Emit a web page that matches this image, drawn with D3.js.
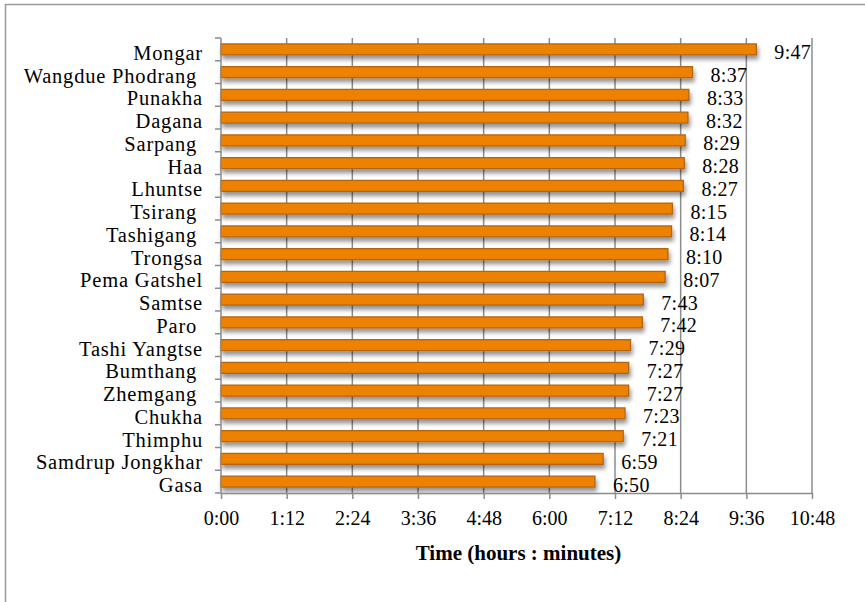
<!DOCTYPE html>
<html>
<head>
<meta charset="utf-8">
<script src="https://cdn.jsdelivr.net/npm/d3@7"></script>
<style>
  html, body { margin: 0; padding: 0; background: #fff; }
  svg { display: block; }
  text { font-family: "Liberation Serif", "Times New Roman", serif; fill: #000; white-space: pre; }
</style>
</head>
<body>
<svg id="chart" width="865" height="602"></svg>
<script>
// ---- data ----
const districts = ["Mongar", "Wangdue Phodrang ", "Punakha", "Dagana", "Sarpang ", "Haa", "Lhuntse",
  "Tsirang ", "Tashigang ", "Trongsa", "Pema Gatshel", "Samtse", "Paro ", "Tashi Yangtse",
  "Bumthang ", "Zhemgang ", "Chukha", "Thimphu", "Samdrup Jongkhar", "Gasa"];
const times = ["9:47", "8:37", "8:33", "8:32", "8:29", "8:28", "8:27", "8:15", "8:14", "8:10",
  "8:07", "7:43", "7:42", "7:29", "7:27", "7:27", "7:23", "7:21", "6:59", "6:50"];
const tickLabels = ["0:00", "1:12", "2:24", "3:36", "4:48", "6:00", "7:12", "8:24", "9:36", "10:48"];
const axisTitle = "Time (hours : minutes)";

const toMin = s => { const [h, m] = s.split(":").map(Number); return h * 60 + m; };
const minutes = times.map(toMin);
const tickValues = tickLabels.map(toMin);

// ---- layout ----
const svg = d3.select("#chart");
const L = 221, R = 812, T = 38, B = 493;

// outer chart border (top + left visible)
svg.append("path")
  .attr("d", "M5.5,602 L5.5,4.5 L865,4.5")
  .attr("fill", "none").attr("stroke", "#9a9a9a").attr("stroke-width", 1.5);

const x = d3.scaleLinear().domain([0, tickValues[tickValues.length - 1]]).range([L, R]);
const y = d3.scaleBand().domain(districts).range([T, B]).paddingInner(0.52).paddingOuter(0.26);
const yb = d3.scaleBand().domain(districts).range([T, B]);

// drop shadow filter
const defs = svg.append("defs");
const f = defs.append("filter").attr("id", "shadow").attr("x", "-5%").attr("y", "-50%").attr("width", "115%").attr("height", "250%");
f.append("feDropShadow").attr("dx", 1.5).attr("dy", 4).attr("stdDeviation", 2)
  .attr("flood-color", "#000").attr("flood-opacity", 0.42);

// gridlines
svg.append("g").selectAll("line").data(tickValues.slice(1)).join("line")
  .attr("x1", d => x(d)).attr("x2", d => x(d))
  .attr("y1", T).attr("y2", B)
  .attr("stroke", "#8c8c8c").attr("stroke-width", 1.5);

// bars
svg.append("g").selectAll("rect").data(districts).join("rect")
  .attr("x", L)
  .attr("y", d => y(d))
  .attr("width", (d, i) => x(minutes[i]) - L)
  .attr("height", y.bandwidth())
  .attr("fill", "#ED8205")
  .attr("stroke", "#B8640C").attr("stroke-width", 1.3)
  .attr("filter", "url(#shadow)");

// x axis
const xAxis = d3.axisBottom(x).tickValues(tickValues).tickFormat((d, i) => tickLabels[i]).tickSize(6).tickSizeOuter(0).tickPadding(12);
const gx = svg.append("g").attr("transform", `translate(0,${B})`).call(xAxis);
gx.select(".domain").attr("stroke", "#8c8c8c").attr("stroke-width", 1.5);
gx.selectAll(".tick line").attr("stroke", "#8c8c8c").attr("stroke-width", 1.5);
gx.selectAll(".tick text").attr("font-size", 20).attr("font-family", "Liberation Serif").attr("fill", "#000")
  .attr("dy", "0.71em");

// y axis line and ticks at category boundaries
const bounds = districts.map(d => yb(d)).concat([B]);
svg.append("line").attr("x1", L).attr("x2", L).attr("y1", T).attr("y2", B)
  .attr("stroke", "#8c8c8c").attr("stroke-width", 1.5);
svg.append("g").selectAll("line").data(bounds).join("line")
  .attr("x1", L - 6).attr("x2", L).attr("y1", d => d).attr("y2", d => d)
  .attr("stroke", "#8c8c8c").attr("stroke-width", 1.5);

// category labels
svg.append("g").selectAll("text").data(districts).join("text")
  .attr("x", 203)
  .attr("y", d => yb(d) + yb.bandwidth() / 2 + 10.5)
  .attr("text-anchor", "end")
  .attr("font-size", 20.5)
  .attr("letter-spacing", 0.8)
  .attr("xml:space", "preserve")
  .text(d => d);

// value labels
svg.append("g").selectAll("text").data(districts).join("text")
  .attr("x", (d, i) => x(minutes[i]) + 18)
  .attr("y", d => yb(d) + yb.bandwidth() / 2 + 10)
  .attr("text-anchor", "start")
  .attr("font-size", 20)
  .attr("letter-spacing", 0.3)
  .text((d, i) => times[i]);

// axis title
svg.append("text")
  .attr("x", (L + R) / 2 + 2)
  .attr("y", 560)
  .attr("text-anchor", "middle")
  .attr("font-size", 21)
  .attr("font-weight", "bold")
  .text(axisTitle);
</script>
</body>
</html>
